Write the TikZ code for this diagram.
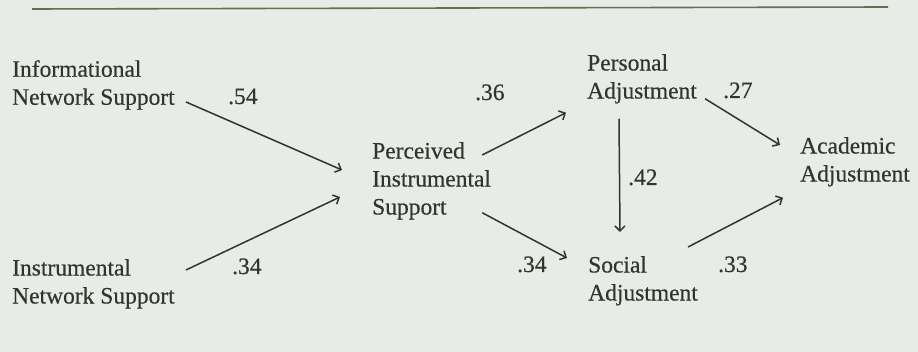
\documentclass[tikz,border=0pt]{standalone}
\usepackage{fontspec}
\setmainfont{Liberation Serif}[FakeBold=0.4]
\usetikzlibrary{arrows.meta}
\definecolor{paper}{RGB}{233,235,230}
\definecolor{ink}{RGB}{48,54,44}
\definecolor{rule}{RGB}{98,112,84}

\begin{document}
\begin{tikzpicture}[x=1pt,y=-1pt,
			box/.style={anchor=north west,inner sep=0pt,align=left,text=ink,font=\fontsize{23.5}{28}\selectfont},
			coef/.style={anchor=base west,inner sep=0pt,text=ink,font=\fontsize{23.5}{28}\selectfont},
			path/.style={draw=ink,line width=1.5pt,-{Straight Barb[length=5pt,width=10pt]}}]
			\fill[paper] (0,0) rectangle (918,352);
			\draw[rule,line width=1.6pt] (32,9) -- (888,7);
			% variables
			\node[box] (info) at (12,60) {Informational\\Network Support};
			\node[box] (instr) at (12,259) {Instrumental\\Network Support};
			\node[box] (perc) at (372,142) {Perceived\\Instrumental\\Support};
			\node[box] (pers) at (587,54) {Personal\\Adjustment};
			\node[box] (soc) at (588,256) {Social\\Adjustment};
			\node[box] (acad) at (800,137) {Academic\\Adjustment};
			% paths
			\draw[path] ([xshift=11pt,yshift=8pt]info.south east) -- ([xshift=-30pt,yshift=-28pt]perc.north west);
			\draw[path] ([xshift=11pt,yshift=-11pt]instr.north east) -- ([xshift=-32pt,yshift=-55pt]perc.north west);
			\draw[path] ([xshift=-9pt,yshift=-13pt]perc.north east) -- ([xshift=-21pt,yshift=-9pt]pers.south west);
			\draw[path] ([xshift=-9pt,yshift=7pt]perc.south east) -- ([xshift=-21pt,yshift=-2pt]soc.north west);
			\draw[path] ([xshift=8pt,yshift=5pt]pers.south east) -- ([xshift=-20pt,yshift=-8pt]acad.north west);
			\draw[path] ([xshift=32pt,yshift=-15pt]pers.south west) -- ([xshift=32pt,yshift=24pt]soc.north west);
			\draw[path] ([xshift=-10pt,yshift=9pt]soc.north east) -- ([xshift=-17pt,yshift=-11pt]acad.south west);
			% coefficients
			\node[coef] (c54) at (228,104) {.54};
			\node[coef] (c34a) at (232,274) {.34};
			\node[coef] (c36) at (475,100) {.36};
			\node[coef] (c27) at (723,98) {.27};
			\node[coef] (c42) at (628,185) {.42};
			\node[coef] (c34b) at (517,272) {.34};
			\node[coef] (c33) at (718,272) {.33};
			\end{tikzpicture}
\end{document}
